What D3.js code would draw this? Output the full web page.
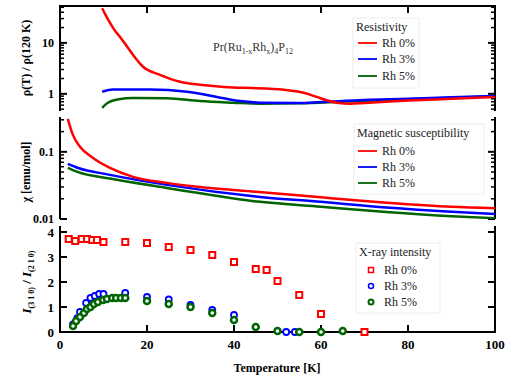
<!DOCTYPE html>
<html><head><meta charset="utf-8">
<script src="https://cdn.jsdelivr.net/npm/d3@7"></script>
<style>body{margin:0;background:#fff}svg{display:block}text{font-family:"Liberation Serif","Times New Roman",serif}</style>
</head><body><svg id="c" width="505" height="378"></svg>
<script>
// ---------- data ----------
const seriesNames = ["Rh 0%", "Rh 3%", "Rh 5%"];
const seriesColors = ["#ff0000", "#0000ff", "#006400"];
const xTicks = [0, 20, 40, 60, 80, 100];

// Resistivity rho(T)/rho(120K)
const resT0 = [9.7, 10.5, 11.5, 12.5, 13.8, 15.2, 16.8, 19.1, 23, 27.6, 32.2, 39.8, 44, 51.5, 56, 59, 61.5, 63.7, 66.7, 70, 80, 90, 100];
const resV0 = [48, 35, 24.6, 18, 13.1, 9, 5.8, 3.4, 2.36, 1.72, 1.5, 1.33, 1.3, 1.2, 1.05, 0.87, 0.74, 0.67, 0.64, 0.66, 0.74, 0.8, 0.87];
const resT3 = [9.7, 12.2, 20.7, 29.2, 36.1, 41.4, 46, 55, 60, 70, 80, 90, 100];
const resV3 = [1.1, 1.22, 1.22, 1.1, 0.87, 0.72, 0.67, 0.66, 0.69, 0.76, 0.8, 0.86, 0.91];
const resT5 = [9.7, 10.5, 11.5, 13.5, 16.8, 24.6, 32.2, 39.8, 46, 55, 65, 80, 90, 100];
const resV5 = [0.53, 0.62, 0.7, 0.78, 0.83, 0.82, 0.72, 0.67, 0.64, 0.65, 0.7, 0.78, 0.84, 0.9];

// Magnetic susceptibility chi [emu/mol]
const susT0 = [1.8, 2.8, 4.6, 7.6, 11.5, 16.8, 24.6, 32.2, 45, 60, 75, 90, 100];
const susV0 = [0.31, 0.19, 0.119, 0.081, 0.0577, 0.0424, 0.0345, 0.030, 0.0255, 0.021, 0.0175, 0.0152, 0.0145];
const susT3 = [1.8, 4, 11.5, 24.6, 46, 60, 75, 90, 100];
const susV3 = [0.066, 0.058, 0.0454, 0.0322, 0.0213, 0.018, 0.0148, 0.0128, 0.0119];
const susT5 = [1.8, 4, 11.5, 24.6, 46, 60, 75, 90, 100];
const susV5 = [0.0577, 0.0503, 0.040, 0.029, 0.018, 0.0152, 0.0127, 0.011, 0.0103];

// X-ray intensity ratio
const xrT0 = [2, 3.5, 5, 6.2, 7.4, 8.5, 10, 15, 20, 25, 30, 35, 40, 45, 47.5, 50, 55, 60, 70];
const xrV0 = [3.72, 3.64, 3.72, 3.72, 3.68, 3.68, 3.6, 3.6, 3.56, 3.4, 3.28, 3.08, 2.8, 2.52, 2.48, 2.04, 1.48, 0.72, 0.0];
const xrT3 = [3, 4, 4.6, 6, 7, 8, 9, 10, 15, 20, 25, 30, 35, 40, 52, 54];
const xrV3 = [0.3, 0.55, 0.8, 1.16, 1.36, 1.44, 1.52, 1.52, 1.56, 1.4, 1.3, 1.08, 0.88, 0.68, 0.0, 0.0];
const xrT5 = [3, 3.7, 4.6, 5.5, 6.2, 7, 7.8, 8.7, 9.9, 10.8, 12, 12.9, 14, 15, 20, 25, 30, 35, 40, 45, 50, 55, 60, 65];
const xrV5 = [0.24, 0.44, 0.6, 0.76, 0.92, 1.0, 1.12, 1.2, 1.28, 1.32, 1.36, 1.36, 1.36, 1.36, 1.24, 1.12, 1.0, 0.76, 0.48, 0.2, 0.04, 0.0, 0.0, 0.04];

// ---------- layout ----------
const svg = d3.select("#c");
const L = 60, R = 495;
const x = d3.scaleLinear().domain([0, 100]).range([L, R]);
const p1 = {top: 6, bot: 111};
const p2 = {top: 117, bot: 219};
const p3 = {top: 226, bot: 332};
const y1 = d3.scaleLog().domain([0.46, 53]).range([p1.bot, p1.top]);
const y2 = d3.scaleLog().domain([0.01, 0.33]).range([p2.bot, p2.top]);
const y3 = d3.scaleLinear().domain([0, 4.24]).range([p3.bot, p3.top]);

const defs = svg.append("defs");
[["c1", p1], ["c2", p2], ["c3", p3]].forEach(([id, p]) => {
  defs.append("clipPath").attr("id", id).append("rect")
    .attr("x", L).attr("y", p.top).attr("width", R - L).attr("height", p.bot - p.top);
});

function zipXY(t, v) { return t.map((d, i) => [d, v[i]]); }

// ---------- vertical axes ----------
function logAxes(ys, p, majors, labels) {
  const [lo, hi] = ys.domain();
  const minor = [];
  for (let e = Math.floor(Math.log10(lo)); e <= Math.ceil(Math.log10(hi)); e++) {
    for (let k = 1; k < 10; k++) {
      const v = k * Math.pow(10, e);
      if (v >= lo && v <= hi) minor.push(v);
    }
  }
  const g = svg.append("g");
  g.append("line").attr("x1", L).attr("x2", L).attr("y1", p.top).attr("y2", p.bot).attr("stroke", "#000").attr("stroke-width", 2);
  g.append("line").attr("x1", R).attr("x2", R).attr("y1", p.top).attr("y2", p.bot).attr("stroke", "#000").attr("stroke-width", 2);
  minor.forEach(v => {
    const maj = majors.includes(v);
    const len = maj ? 7 : 4;
    g.append("line").attr("x1", L).attr("x2", L + len).attr("y1", ys(v)).attr("y2", ys(v)).attr("stroke", "#000").attr("stroke-width", maj ? 2 : 1.5);
    g.append("line").attr("x1", R).attr("x2", R - len).attr("y1", ys(v)).attr("y2", ys(v)).attr("stroke", "#000").attr("stroke-width", maj ? 2 : 1.5);
  });
  majors.forEach((v, i) => {
    g.append("text").attr("x", L - 6).attr("y", ys(v) + 4).attr("text-anchor", "end")
      .attr("font-size", 12).attr("font-weight", "bold").text(labels[i]);
  });
}
logAxes(y1, p1, [1, 10], ["1", "10"]);
logAxes(y2, p2, [0.01, 0.1], ["0.01", "0.1"]);

// linear bottom panel
const y3Ticks = [0, 1, 2, 3, 4];
{
  const g = svg.append("g");
  g.append("line").attr("x1", L).attr("x2", L).attr("y1", p3.top).attr("y2", p3.bot).attr("stroke", "#000").attr("stroke-width", 2);
  g.append("line").attr("x1", R).attr("x2", R).attr("y1", p3.top).attr("y2", p3.bot).attr("stroke", "#000").attr("stroke-width", 2);
  y3Ticks.forEach(v => {
    g.append("line").attr("x1", L).attr("x2", L + 7).attr("y1", y3(v)).attr("y2", y3(v)).attr("stroke", "#000").attr("stroke-width", 2);
    g.append("line").attr("x1", R).attr("x2", R - 7).attr("y1", y3(v)).attr("y2", y3(v)).attr("stroke", "#000").attr("stroke-width", 2);
    g.append("text").attr("x", L - 6).attr("y", y3(v) + 5).attr("text-anchor", "end")
      .attr("font-size", 13).attr("font-weight", "bold").text(v);
  });
}

// ---------- horizontal axes ----------
svg.append("line").attr("x1", L - 1).attr("x2", R + 1).attr("y1", p1.top).attr("y2", p1.top).attr("stroke", "#000").attr("stroke-width", 2);
svg.append("line").attr("x1", L - 1).attr("x2", R + 1).attr("y1", p3.bot).attr("y2", p3.bot).attr("stroke", "#000").attr("stroke-width", 2);
xTicks.forEach(t => {
  if (t > 0 && t < 100) {
    svg.append("line").attr("x1", x(t)).attr("x2", x(t)).attr("y1", p1.top).attr("y2", p1.top + 7).attr("stroke", "#000").attr("stroke-width", 2);
    svg.append("line").attr("x1", x(t)).attr("x2", x(t)).attr("y1", p3.bot).attr("y2", p3.bot - 7).attr("stroke", "#000").attr("stroke-width", 2);
  }
  svg.append("text").attr("x", x(t)).attr("y", 349).attr("text-anchor", "middle")
    .attr("font-size", 13).attr("font-weight", "bold").text(t);
});
svg.append("text").attr("x", 277).attr("y", 372).attr("text-anchor", "middle")
  .attr("font-size", 12).attr("font-weight", "bold").text("Temperature [K]");

// ---------- y labels ----------
svg.append("text").attr("transform", "translate(30,58) rotate(-90)").attr("text-anchor", "middle")
  .attr("font-size", 12).attr("font-weight", "bold").text("ρ(T) / ρ(120 K)");
svg.append("text").attr("transform", "translate(30,172) rotate(-90)").attr("text-anchor", "middle")
  .attr("font-size", 12).attr("font-weight", "bold").text("χ [emu/mol]");
{
  const t = svg.append("text").attr("transform", "translate(31,282) rotate(-90)").attr("text-anchor", "middle")
    .attr("font-size", 13).attr("font-weight", "bold");
  t.append("tspan").attr("font-style", "italic").text("I");
  t.append("tspan").attr("font-size", 8).attr("dy", 3).text("(3 1 0)");
  t.append("tspan").attr("dy", -3).text(" / ");
  t.append("tspan").attr("font-style", "italic").text("I");
  t.append("tspan").attr("font-size", 8).attr("dy", 3).text("(2 1 0)");
}

// ---------- lines ----------
const resData = [zipXY(resT0, resV0), zipXY(resT3, resV3), zipXY(resT5, resV5)];
const susData = [zipXY(susT0, susV0), zipXY(susT3, susV3), zipXY(susT5, susV5)];
const line1 = d3.line().x(d => x(d[0])).y(d => y1(d[1])).curve(d3.curveMonotoneX);
const line2 = d3.line().x(d => x(d[0])).y(d => y2(d[1])).curve(d3.curveMonotoneX);
const g1 = svg.append("g").attr("clip-path", "url(#c1)");
[2, 1, 0].forEach(i => g1.append("path").attr("d", line1(resData[i])).attr("fill", "none")
  .attr("stroke", seriesColors[i]).attr("stroke-width", 2.5));
const g2 = svg.append("g").attr("clip-path", "url(#c2)");
[2, 1, 0].forEach(i => g2.append("path").attr("d", line2(susData[i])).attr("fill", "none")
  .attr("stroke", seriesColors[i]).attr("stroke-width", 2.5));

// ---------- markers ----------
const g3 = svg.append("g");
const xrData = [zipXY(xrT0, xrV0), zipXY(xrT3, xrV3), zipXY(xrT5, xrV5)];
function marker(g, i, cx, cy) {
  if (i === 0) {
    g.append("rect").attr("x", cx - 3).attr("y", cy - 3).attr("width", 6).attr("height", 6)
      .attr("fill", "#fff").attr("stroke", seriesColors[0]).attr("stroke-width", 2);
  } else {
    g.append("circle").attr("cx", cx).attr("cy", cy).attr("r", 3)
      .attr("fill", "#fff").attr("stroke", seriesColors[i]).attr("stroke-width", i === 2 ? 2.5 : 1.8);
  }
}
[0, 1, 2].forEach(i => xrData[i].forEach(d => marker(g3, i, x(d[0]), y3(d[1]))));

// ---------- annotation ----------
{
  const t = svg.append("text").attr("x", 213).attr("y", 51).attr("font-size", 12).attr("fill", "#333");
  t.append("tspan").text("Pr(Ru");
  t.append("tspan").attr("font-size", 8).attr("dy", 3).text("1-x");
  t.append("tspan").attr("dy", -3).text("Rh");
  t.append("tspan").attr("font-size", 8).attr("dy", 3).text("x");
  t.append("tspan").attr("dy", -3).text(")");
  t.append("tspan").attr("font-size", 8).attr("dy", 3).text("4");
  t.append("tspan").attr("dy", -3).text("P");
  t.append("tspan").attr("font-size", 8).attr("dy", 3).text("12");
}

// ---------- legends ----------
function legend(title, tx, ty, rows, rowX, w, kind) {
  const g = svg.append("g");
  g.append("rect").attr("x", tx - 3).attr("y", ty - 13).attr("width", w).attr("height", 70)
    .attr("fill", "#fff").attr("stroke", "#eeeeee").attr("stroke-width", 1);
  g.append("text").attr("x", tx).attr("y", ty).attr("font-size", 12).attr("fill", "#222").text(title);
  rows.forEach((ry, i) => {
    if (kind === "line") {
      g.append("line").attr("x1", rowX).attr("x2", rowX + 19).attr("y1", ry).attr("y2", ry)
        .attr("stroke", seriesColors[i]).attr("stroke-width", 1.8);
      g.append("text").attr("x", rowX + 24).attr("y", ry + 4).attr("font-size", 12).attr("fill", "#222").text(seriesNames[i]);
    } else {
      if (i === 0) g.append("rect").attr("x", rowX - 2.5).attr("y", ry - 2.5).attr("width", 5).attr("height", 5)
        .attr("fill", "#fff").attr("stroke", seriesColors[0]).attr("stroke-width", 1.5);
      else g.append("circle").attr("cx", rowX).attr("cy", ry).attr("r", 2.5)
        .attr("fill", "#fff").attr("stroke", seriesColors[i]).attr("stroke-width", i === 2 ? 2 : 1.5);
      g.append("text").attr("x", rowX + 13).attr("y", ry + 4).attr("font-size", 12).attr("fill", "#222").text(seriesNames[i]);
    }
  });
}
legend("Resistivity", 356, 31, [43, 59, 76], 358, 66, "line");
legend("Magnetic susceptibility", 357, 137, [151, 167, 183], 358, 130, "line");
legend("X-ray intensity", 359, 256, [270, 286, 302], 371, 84, "marker");
</script></body></html>
